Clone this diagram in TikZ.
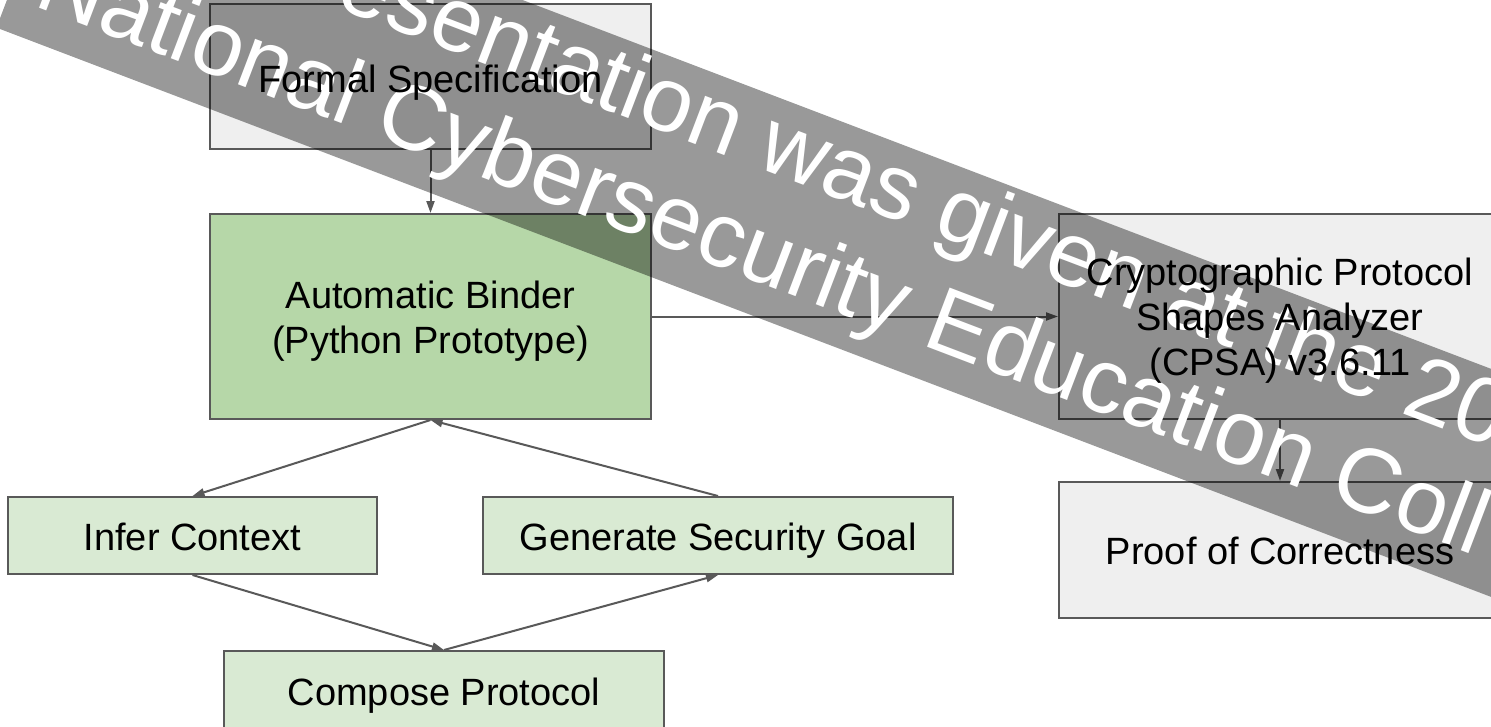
\documentclass[tikz,border=0pt]{standalone}
\usepackage{fontspec}
\setmainfont{Liberation Sans}
\usetikzlibrary{arrows.meta}
\definecolor{boxgrey}{HTML}{EFEFEF}
\definecolor{bindergreen}{HTML}{B6D7A8}
\definecolor{palegreen}{HTML}{D9EAD3}
\definecolor{edgegrey}{HTML}{595959}
\begin{document}
\begin{tikzpicture}[x=1pt,y=1pt,
  box/.style={draw=edgegrey, line width=2pt, inner sep=0pt},
  onelabel/.style={inner sep=0pt, text=black, font=\fontsize{38}{45}\selectfont,
    text height=27pt, text depth=0pt},
  multilabel/.style={inner sep=0pt, text=black, align=center,
    font=\fontsize{38}{45}\selectfont},
  conn/.style={draw=edgegrey, line width=2pt, -{Triangle[length=12pt,width=8pt]}},
  wmtext/.style={anchor=base west, inner sep=0pt, text=white,
    font=\fontsize{92}{100}\selectfont}]
\useasboundingbox (0,0) rectangle (1491,-726);
\clip (0,0) rectangle (1491,-726);
\fill[white] (0,0) rectangle (1491,-726);
% boxes
\node[box, fill=boxgrey, minimum width=441pt, minimum height=145pt] (spec) at (430.5,-76.5) {};
\node[box, fill=bindergreen, minimum width=441pt, minimum height=205pt] (binder) at (430.5,-316.5) {};
\node[box, fill=boxgrey, minimum width=442pt, minimum height=205pt] (cpsa) at (1280,-316.5) {};
\node[box, fill=boxgrey, minimum width=442pt, minimum height=136pt] (proof) at (1280,-550) {};
\node[box, fill=palegreen, minimum width=369pt, minimum height=77pt] (infer) at (192.5,-535.5) {};
\node[box, fill=palegreen, minimum width=470pt, minimum height=77pt] (goal) at (718,-535.5) {};
\node[box, fill=palegreen, minimum width=440pt, minimum height=79pt] (compose) at (444,-690.5) {};
% connectors
\draw[conn] (spec.south) -- (binder.north);
\draw[conn] (binder.east) -- (cpsa.west);
\draw[conn] (cpsa.south) -- (proof.north);
\draw[conn] (binder.south) -- (infer.north);
\draw[conn] (goal.north) -- (binder.south);
\draw[conn] (infer.south) -- (compose.north);
\draw[conn] (compose.north) -- (goal.south);
% watermark
\begin{scope}[rotate=-20.85, transform shape]
\fill[black, fill opacity=0.4] (6.5,186) rectangle (2100,-27.1);
\node[wmtext] (wmA) at (222,113) {Presentation was given at the 20};
\node[wmtext] (wmB) at (32,6) {National Cybersecurity Education Coll};
\end{scope}
% labels on top
\node[onelabel] (specL) at ([yshift=-2pt]spec.center) {Formal Specification};
\node[multilabel] (binderL) at ([yshift=-5pt]binder.center) {Automatic Binder\\(Python Prototype)};
\node[multilabel] (cpsaL) at ([yshift=-4pt]cpsa.center) {Cryptographic Protocol\\Shapes Analyzer\\(CPSA) v3.6.11};
\node[onelabel] (proofL) at ([yshift=-1pt]proof.center) {Proof of Correctness};
\node[onelabel] (inferL) at ([yshift=-1pt]infer.center) {Infer Context};
\node[onelabel] (goalL) at ([yshift=-1pt]goal.center) {Generate Security Goal};
\node[onelabel] (composeL) at ([yshift=-1pt]compose.center) {Compose Protocol};
\end{tikzpicture}
\end{document}
